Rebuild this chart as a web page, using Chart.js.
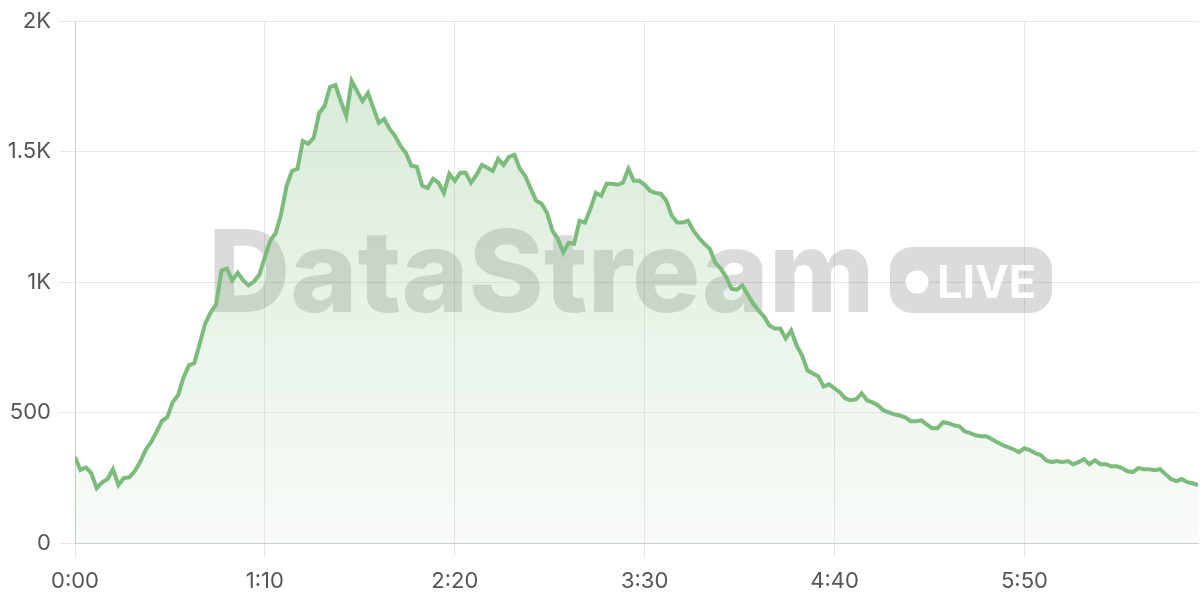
<!DOCTYPE html>
<html>
<head>
<meta charset="utf-8">
<script src="https://cdn.jsdelivr.net/npm/chart.js@4"></script>
<style>
  body { margin: 0; background: #fff; }
  #box { width: 1200px; height: 600px; }
</style>
</head>
<body>
<div id="box"><canvas id="viewers-chart" width="1200" height="600"></canvas></div>
<script>
const ctx = document.getElementById('viewers-chart').getContext('2d')

// one sample every 2 seconds
const stepSeconds = 2
const viewers = [
  330, 280, 290, 268, 210, 233, 245, 283, 222, 249,
  252, 275, 310, 356, 386, 424, 467, 482, 539, 566,
  635, 681, 690, 765, 841, 883, 914, 1044, 1052, 1006,
  1036, 1006, 987, 1002, 1029, 1097, 1159, 1189, 1262, 1369,
  1426, 1434, 1541, 1530, 1553, 1648, 1675, 1748, 1755, 1694,
  1637, 1771, 1732, 1694, 1725, 1667, 1610, 1625, 1587, 1560,
  1522, 1495, 1446, 1442, 1369, 1361, 1396, 1381, 1342, 1415,
  1388, 1419, 1419, 1381, 1411, 1449, 1438, 1426, 1472, 1449,
  1480, 1488, 1434, 1407, 1358, 1312, 1300, 1266, 1197, 1166,
  1113, 1151, 1147, 1235, 1228, 1281, 1342, 1331, 1377, 1377,
  1373, 1381, 1434, 1388, 1388, 1373, 1350, 1342, 1338, 1312,
  1254, 1228, 1228, 1235, 1197, 1170, 1147, 1128, 1075, 1052,
  1021, 975, 971, 987, 952, 918, 891, 868, 834, 822,
  822, 784, 815, 757, 719, 662, 650, 639, 600, 608,
  593, 577, 554, 547, 551, 574, 547, 539, 528, 509,
  501, 493, 489, 482, 467, 467, 470, 455, 440, 440,
  463, 459, 451, 447, 428, 421, 413, 409, 409, 398,
  386, 375, 367, 359, 348, 363, 356, 344, 337, 317,
  310, 314, 310, 314, 302, 310, 321, 302, 317, 302,
  302, 294, 294, 287, 275, 272, 287, 283, 283, 279,
  283, 264, 245, 237, 245, 233, 229, 222
]
const seconds = viewers.map((v, i) => i * stepSeconds)

const xTickStep = 70
const yTickStep = 500
const yMax = 2000

function clock(s) {
  const m = Math.floor(s / 60)
  const r = s % 60
  return m + ':' + (r < 10 ? '0' + r : r)
}

const watermark = {
  id: 'watermark',
  beforeDatasetsDraw(chart) {
    const c = chart.ctx
    c.save()
    c.fillStyle = 'rgba(0, 0, 0, 0.14)'
    c.font = '800 114px Inter'
    c.textBaseline = 'alphabetic'
    c.fillText('DataStream', 208, 312)
    c.beginPath()
    c.roundRect(890, 247, 162, 66, 22)
    c.fill()
    c.fillStyle = '#ffffff'
    c.beginPath()
    c.arc(917, 282, 11.5, 0, Math.PI * 2)
    c.fill()
    c.font = '700 45px Inter'
    c.fillText('LIVE', 937, 298)
    c.restore()
  }
}

const tickFont = { family: 'Inter', size: 22 }

let viewersChart = new Chart(ctx, {
  type: 'line',
  data: {
    labels: seconds,
    datasets: [{
      data: viewers,
      label: 'Viewers',
      fill: 'origin',
      borderColor: '#7bbb7b',
      borderWidth: 4,
      pointRadius: 0,
      tension: 0,
      backgroundColor: (context) => {
        const { ctx, chartArea } = context.chart
        if (!chartArea) return null
        const g = ctx.createLinearGradient(0, chartArea.top, 0, chartArea.bottom)
        g.addColorStop(0, 'rgba(122, 186, 122, 0.32)')
        g.addColorStop(1, 'rgba(122, 186, 122, 0.05)')
        return g
      }
    }]
  },
  options: {
    responsive: false,
    animation: false,
    layout: { padding: { top: 8, right: 2, bottom: 0, left: 0 } },
    plugins: {
      legend: { display: false },
      tooltip: { enabled: false }
    },
    scales: {
      x: {
        type: 'linear',
        min: 0,
        max: seconds[seconds.length - 1],
        afterFit: (axis) => { axis.height = 57 },
        ticks: {
          stepSize: xTickStep,
          includeBounds: false,
          color: '#555',
          font: tickFont,
          padding: 11,
          maxRotation: 0,
          callback: (v) => clock(v)
        },
        grid: { color: '#e8e8e8', tickLength: 14 },
        border: { color: '#cccccc' }
      },
      y: {
        min: 0,
        max: yMax,
        afterFit: (axis) => { axis.width = 75 },
        ticks: {
          stepSize: yTickStep,
          color: '#555',
          font: tickFont,
          padding: 8,
          callback: (v) => v >= 1000 ? (v / 1000) + 'K' : v
        },
        grid: { color: '#e8e8e8', tickLength: 16 },
        border: { color: '#cccccc' }
      }
    }
  },
  plugins: [watermark]
})
</script>
</body>
</html>
